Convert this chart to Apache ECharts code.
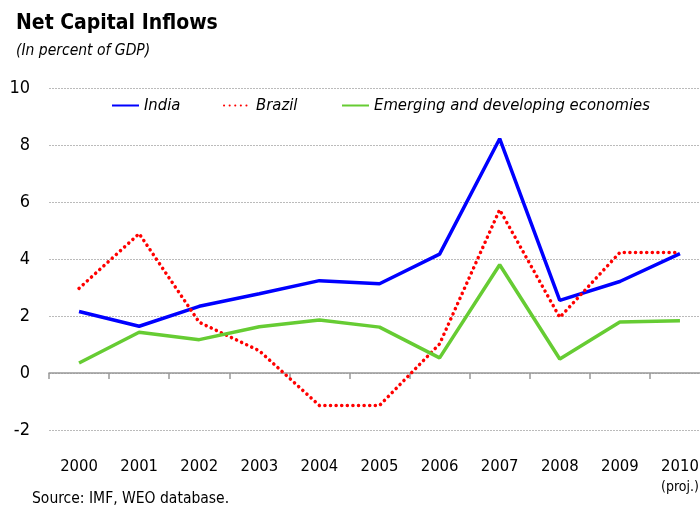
<!DOCTYPE html>
<html>
<head>
<meta charset="utf-8">
<script src="https://cdn.jsdelivr.net/npm/echarts@6/dist/echarts.min.js"></script>
<style>
    html, body { margin: 0; padding: 0; background: #fff; overflow: hidden; }
    #main { width: 712px; height: 511px; }
</style>
</head>
<body>
<div id="main"></div>
<script>
    const years = ['2000', '2001', '2002', '2003', '2004', '2005', '2006', '2007', '2008', '2009', '2010'];
    const india = [2.16, 1.64, 2.34, 2.78, 3.24, 3.13, 4.17, 8.22, 2.55, 3.21, 4.19];
    const brazil = [2.97, 4.89, 1.78, 0.78, -1.14, -1.14, 1.02, 5.73, 1.95, 4.23, 4.23];
    const emerging = [0.35, 1.43, 1.17, 1.62, 1.86, 1.61, 0.53, 3.80, 0.49, 1.79, 1.83];
    const yTicks = [-2, 0, 2, 4, 6, 8, 10];

    const font = '"DejaVu Sans Condensed", "Liberation Sans Narrow", sans-serif';

    const chart = echarts.init(document.getElementById('main'));

    const legendText = {
        fontFamily: font, fontStyle: 'italic', fontSize: 16.5, color: '#000'
    };
    const legendBase = {
        top: 92, itemWidth: 27, itemHeight: 10, itemGap: 0,
        itemStyle: { opacity: 0 },
        textStyle: legendText
    };

    const option = {
        animation: false,
        textStyle: { fontFamily: font },
        title: [
            {
                text: 'Net Capital Inflows',
                left: 11, top: 8,
                textStyle: { fontFamily: font, fontWeight: 'bold', fontSize: 21, color: '#000' }
            },
            {
                text: '(In percent of GDP)',
                left: 11, top: 38,
                textStyle: { fontFamily: font, fontStyle: 'italic', fontWeight: 'normal', fontSize: 15.5, color: '#000' }
            },
            {
                text: 'Source: IMF, WEO database.',
                left: 27, top: 486,
                textStyle: { fontFamily: font, fontWeight: 'normal', fontSize: 15.5, color: '#000' }
            }
        ],
        legend: [
            Object.assign({ data: ['India'], left: 106 }, legendBase),
            Object.assign({ data: ['Brazil'], left: 218 }, legendBase),
            Object.assign({ data: ['Emerging and developing economies'], left: 336 }, legendBase)
        ],
        grid: { left: 49, right: 2, top: 88, bottom: 81 },
        xAxis: [
            {
                type: 'category',
                data: years,
                boundaryGap: true,
                axisLine: { onZero: true, lineStyle: { color: '#999', width: 1.5 } },
                axisTick: { show: true, interval: 0, length: 6, lineStyle: { color: '#999', width: 1.5 } },
                axisLabel: { show: false },
                splitLine: { show: false }
            },
            {
                type: 'category',
                data: years,
                position: 'bottom',
                boundaryGap: true,
                axisLine: { show: false, onZero: false },
                axisTick: { show: false },
                axisLabel: {
                    interval: 0,
                    margin: 26,
                    fontFamily: font,
                    fontSize: 16.5,
                    color: '#000',
                    verticalAlign: 'top',
                    formatter: v => v === '2010' ? '{a|2010}\n{b|(proj.)}' : '{a|' + v + '}',
                    rich: {
                        a: { fontFamily: font, fontSize: 16.5, color: '#000', lineHeight: 22 },
                        b: { fontFamily: font, fontSize: 14, color: '#000', lineHeight: 19 }
                    }
                }
            }
        ],
        yAxis: {
            type: 'value',
            min: yTicks[0],
            max: yTicks[yTicks.length - 1],
            interval: 2,
            axisLine: { show: false },
            axisTick: { show: false },
            axisLabel: { margin: 19, fontFamily: font, fontSize: 18, color: '#000' },
            splitLine: { lineStyle: { color: '#bbb', type: [2, 1], width: 1 } }
        },
        series: [
            {
                name: 'India', type: 'line', data: india, symbol: 'none',
                itemStyle: { color: '#0000ff' },
                lineStyle: { color: '#0000ff', width: 3.5 }
            },
            {
                name: 'Brazil', type: 'line', data: brazil, symbol: 'none',
                itemStyle: { color: '#ff0000' },
                lineStyle: { color: '#ff0000', width: 3.5, type: [0.1, 5.5], cap: 'round' }
            },
            {
                name: 'Emerging and developing economies', type: 'line', data: emerging, symbol: 'none',
                itemStyle: { color: '#66cc33' },
                lineStyle: { color: '#66cc33', width: 3.5 }
            }
        ]
    };

    chart.setOption(option);
</script>
</body>
</html>
